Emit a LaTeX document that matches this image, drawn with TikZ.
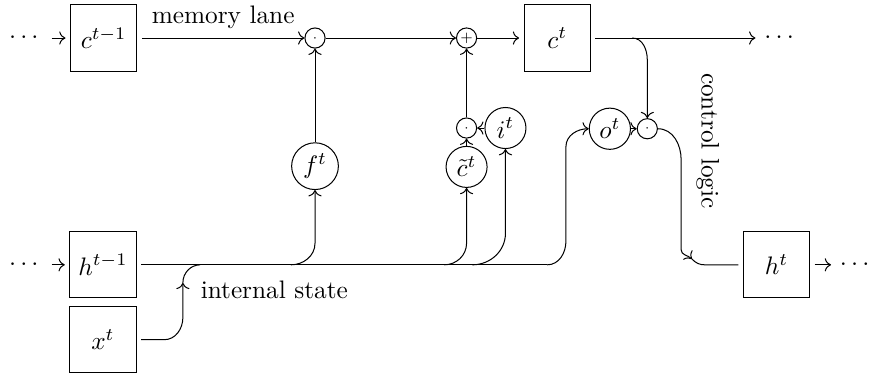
\documentclass[tikz,border=0pt]{standalone}
\usepackage{amsmath}
\usepackage{tikz}
\usetikzlibrary{arrows.meta}

\begin{document}
\begin{tikzpicture}[box/.style={draw, minimum size=.92cm, outer sep=2pt}, gate/.style={draw, circle, inner sep=1.7pt, minimum size=.57cm}, op/.style={draw, circle, inner sep=0pt, minimum size=.28cm, font=\tiny}]
    \useasboundingbox (0, 0) rectangle (12.083, 5.208);
    \node (ldotsc) at (.36, 4.68) {$\cdots$};
    \node[box] (cprev) at (1.44, 4.68) {$c^{t-1}$};
    \node[op] (fdot) at (4.375, 4.68) {$\cdot$};
    \node[op] (plus) at (6.48, 4.68) {$+$};
    \node[box] (ct) at (7.74, 4.68) {$c^t$};
    \node (rdotsc) at (10.85, 4.68) {$\cdots$};
    \node[gate] (ft) at (4.375, 2.9) {$f^t$};
    \node[op] (idot) at (6.48, 3.43) {$\cdot$};
    \node[gate] (it) at (7.02, 3.43) {$i^t$};
    \node[gate] (ctil) at (6.48, 2.89) {$\tilde{c}^t$};
    \node[gate] (ot) at (8.47, 3.42) {$o^t$};
    \node[op] (odot) at (8.99, 3.42) {$\cdot$};
    \node (ldotsh) at (.36, 1.53) {$\cdots$};
    \node[box] (hprev) at (1.43, 1.53) {$h^{t-1}$};
    \node[box] (xt) at (1.43, .49) {$x^t$};
    \node[box] (ht) at (10.785, 1.53) {$h^t$};
    \node (rdotsh) at (11.9, 1.53) {$\cdots$};
    \node (state) at (3.81, 1.18) {internal state};
    \node[rotate=-90] (logic) at (9.83, 3.25) {control logic};
    \coordinate (xmid) at (2.54, 1.28);
    \coordinate (join) at (2.78, 1.53);
    \coordinate (fbr) at (4.04, 1.53);
    \coordinate (cbr) at (6.17, 1.53);
    \coordinate (ibr) at (6.56, 1.53);
    \coordinate (obr) at (7.6, 1.53);
    \coordinate (cout) at (8.78, 4.68);
    \coordinate (hmid) at (9.61, 1.61);
    \draw[->] (ldotsc) -- (cprev);
    \draw[->] (cprev) -- node[above]{memory lane} (fdot);
    \draw[->] (fdot) -- (plus);
    \draw[->] (plus) -- (ct);
    \draw[->] (ct) -- (rdotsc);
    \draw[->] (ft) -- (fdot);
    \draw[->] (idot) -- (plus);
    \draw[->] (ctil) -- (idot);
    \draw[->] (it) -- (idot);
    \draw[->] (ot) -- (odot);
    \draw[->] (ldotsh) -- (hprev);
    \draw (hprev) -- (obr);
    \draw[->] (xt) -- (2.28, .49) to[out=0, in=-90] (2.54, .8) -- (xmid);
    \draw (xmid) to[out=90, in=180] (join);
    \draw[->] (fbr) to[out=0, in=-90] (4.375, 1.83) -- (ft);
    \draw[->] (cbr) to[out=0, in=-90] (6.48, 1.83) -- (ctil);
    \draw[->] (ibr) to[out=0, in=-90] (7.02, 1.97) -- (it);
    \draw[->] (obr) to[out=0, in=-90] (7.86, 1.86) -- (7.86, 3.17) to[out=90, in=180] (ot);
    \draw[->] (cout) to[out=0, in=90] (8.99, 4.375) -- (odot);
    \draw[->] (odot) to[out=0, in=90] (9.46, 2.99) -- (9.46, 1.74) to[out=-90, in=135] (hmid);
    \draw (hmid) to[out=-45, in=180] (9.79, 1.53) -- (ht);
    \draw[->] (ht) -- (rdotsh);
\end{tikzpicture}
\end{document}
